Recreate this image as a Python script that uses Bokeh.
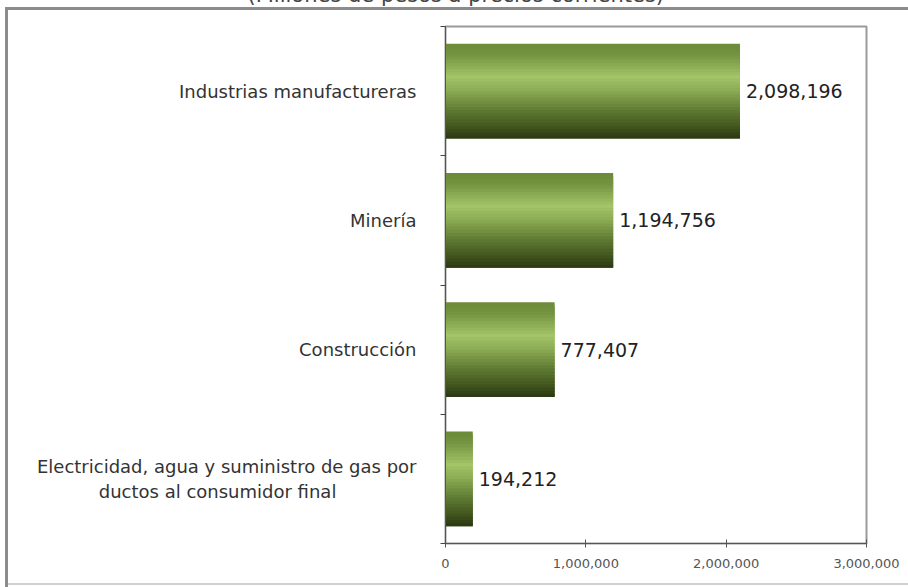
from bokeh.plotting import figure
from bokeh.models import ColumnDataSource, Range1d, FixedTicker, NumeralTickFormatter
from bokeh.embed import file_html
from bokeh.resources import INLINE

# ---- data ----
categories = [
    "Industrias manufactureras",
    "Minería",
    "Construcción",
    "Electricidad, agua y suministro de gas por\nductos al consumidor final",
]
values = [2098196, 1194756, 777407, 194212]
value_labels = ["2,098,196", "1,194,756", "777,407", "194,212"]
x_ticks = [0, 1000000, 2000000, 3000000]
subtitle = "(Millones de pesos a precios corrientes)"

# ---- style ----
FONT = "DejaVu Sans"
LABEL_PX = 18
SHIFT = 40  # hidden strip at the top (the subtitle is cut in the reference)
TITLE_STANDOFF = 40
stops = [(0.0, "#6c8a38"), (0.12, "#749441"), (0.35, "#a4c468"), (0.5, "#8aaa54"),
         (0.7, "#5f7b33"), (0.86, "#45591f"), (1.0, "#2a3612")]


def hex2rgb(h):
    return tuple(int(h[i:i + 2], 16) for i in (1, 3, 5))


def grad(t):
    for (t0, c0), (t1, c1) in zip(stops[:-1], stops[1:]):
        if t0 <= t <= t1:
            f = (t - t0) / (t1 - t0) if t1 > t0 else 0
            a, b = hex2rgb(c0), hex2rgb(c1)
            return "#%02x%02x%02x" % tuple(round(a[i] + (b[i] - a[i]) * f) for i in range(3))
    return stops[-1][1]


def centre_lines(label):
    """Pad shorter lines of a multi-line, right-aligned axis label so they look centred."""
    lines = label.split("\n")
    if len(lines) == 1:
        return label
    longest = max(len(s) for s in lines)
    out = []
    for s in lines:
        extra_px = (longest - len(s)) * 0.55 * LABEL_PX / 2
        out.append(s + "\u00a0" * round(extra_px / (0.318 * LABEL_PX)))
    return "\n".join(out)


n = len(categories)
centers = [i + 0.5 for i in range(n)]
bounds = list(range(n + 1))
bar_h = 0.734
N = 30
dh = bar_h / N

tops, bots, rights, cols = [], [], [], []
for c, v in zip(centers, values):
    b_top = c - bar_h / 2
    b_bot = c + bar_h / 2
    for k in range(N):
        t = b_top + k * dh
        tops.append(t)
        bots.append(min(t + 2.5 * dh, b_bot))
        rights.append(v)
        cols.append(grad((k + 0.5) / N))

p = figure(width=908, height=587 + SHIFT, output_backend="svg", toolbar_location=None,
           x_range=Range1d(0, 3000000), y_range=Range1d(n, 0),
           min_border_left=445, min_border_right=42, min_border_top=24 + SHIFT,
           min_border_bottom=44)
p.grid.visible = False
p.background_fill_color = "white"
p.border_fill_color = None
p.outline_line_color = "#9a9a9a"
p.outline_line_width = 2

g = "linear-gradient(#8c8c8c,#8c8c8c)"
gl = "linear-gradient(#d0d0d0,#d0d0d0)"
p.styles = {
    "margin-top": f"-{SHIFT}px",
    "background-color": "white",
    "background-image": f"{g}, {g}, {gl}",
    "background-position": f"5px {7 + SHIFT}px, 5px {7 + SHIFT}px, 5px {583 + SHIFT}px",
    "background-size": "3px 580px, 903px 3px, 903px 2px",
    "background-repeat": "no-repeat",
}

# subtitle (only its lower part is visible, as in the reference)
p.title.text = subtitle
p.title.align = "left"
p.title.offset = -198
p.title.text_font = FONT
p.title.text_font_size = "21px"
p.title.text_font_style = "normal"
p.title.text_color = "#444444"
p.title.standoff = TITLE_STANDOFF

src = ColumnDataSource(dict(top=tops, bottom=bots, right=rights, c=cols))
p.quad(left=0, right="right", top="top", bottom="bottom", fill_color="c",
       line_color=None, source=src)

# value labels
val_src = ColumnDataSource(dict(x=values, y=centers, t=value_labels))
p.text(x="x", y="y", text="t", source=val_src, x_offset=6, text_align="left",
       text_baseline="middle", text_font={"value": FONT}, text_font_size="19px",
       text_color="#222222")

# x axis
xa = p.xaxis[0]
xa.ticker = FixedTicker(ticks=x_ticks)
xa.formatter = NumeralTickFormatter(format="0,0")
xa.major_label_text_font = FONT
xa.major_label_text_font_size = "13px"
xa.major_label_text_color = "#555555"
xa.major_tick_in = 4
xa.major_tick_out = 4
xa.minor_tick_line_color = None
xa.axis_line_color = "#555555"
xa.major_tick_line_color = "#555555"
xa.major_label_standoff = 11

# y axis: labels at category centres, tick marks at category boundaries
ya = p.yaxis[0]
ya.ticker = FixedTicker(ticks=centers, minor_ticks=bounds)
ya.major_label_overrides = {c: centre_lines(cat) for c, cat in zip(centers, categories)}
ya.major_label_text_font = FONT
ya.major_label_text_font_size = f"{LABEL_PX}px"
ya.major_label_text_color = "#333333"
ya.major_label_standoff = 24
ya.major_tick_line_color = None
ya.major_tick_in = 0
ya.major_tick_out = 0
ya.minor_tick_in = 0
ya.minor_tick_out = 5
ya.minor_tick_line_color = "#444444"
ya.axis_line_color = "#555555"

open("out.html", "w").write(file_html(p, INLINE))
